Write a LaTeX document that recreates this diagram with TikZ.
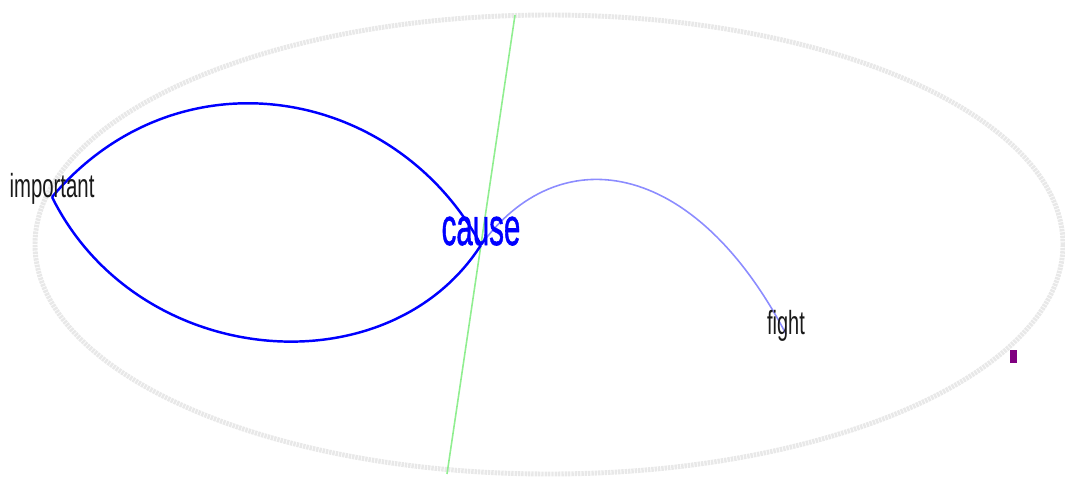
\documentclass[tikz,border=0pt]{standalone}
\usepackage{fontspec}
\setmainfont{Liberation Sans}
\newfontfamily\hubfont[FakeBold=1.2]{Liberation Sans}
\definecolor{lgreen}{RGB}{144,238,144}
\definecolor{wordgray}{RGB}{25,25,25}
\begin{document}
\begin{tikzpicture}[x=0.02cm, y=-0.02cm, thick,
	word/.style={anchor=base, xscale=0.61, text=wordgray, font=\fontsize{19}{22}\selectfont},
	hub/.style={anchor=base, xscale=0.56, text=blue, font=\hubfont\fontsize{30}{34}\selectfont},
	tie/.style={blue, line width=1.4pt},
	weak/.style={blue!45, line width=0.9pt}]
	\useasboundingbox (0,0) rectangle (1065,477);
	% 1. 外圈椭圆与竖线 (置于底层)
	\draw[gray!18, line width=2.8pt, dash pattern=on 1.4pt off 0.5pt] (549,244.5) ellipse [x radius=514, y radius=229.5];
	\coordinate (gtop) at (515,15);
	\coordinate (gbot) at (447,474);
	\draw[lgreen, line width=0.9pt] (gtop) -- (gbot);
	
	% 2. 词语位置
	\coordinate (imp) at (52,197);
	\coordinate (cau) at (481,245);
	\coordinate (fig) at (786,334);
	
	% 3. 连线
	\draw[tie] (imp) .. controls (178,48) and (395,86) .. (cau);
	\draw[tie] (imp) .. controls (138,370) and (388,390) .. (cau);
	\draw[weak] (cau) .. controls (557,140) and (692,155) .. (fig);
	
	% 4. 标签与标记
	\node[word] (important) at (imp) {important};
	\node[hub] (cause) at (cau) {cause};
	\node[word, xscale=0.98] (fight) at (fig) {fight};
	\fill[violet] (1010,350) rectangle (1017,363);
\end{tikzpicture}
\end{document}
